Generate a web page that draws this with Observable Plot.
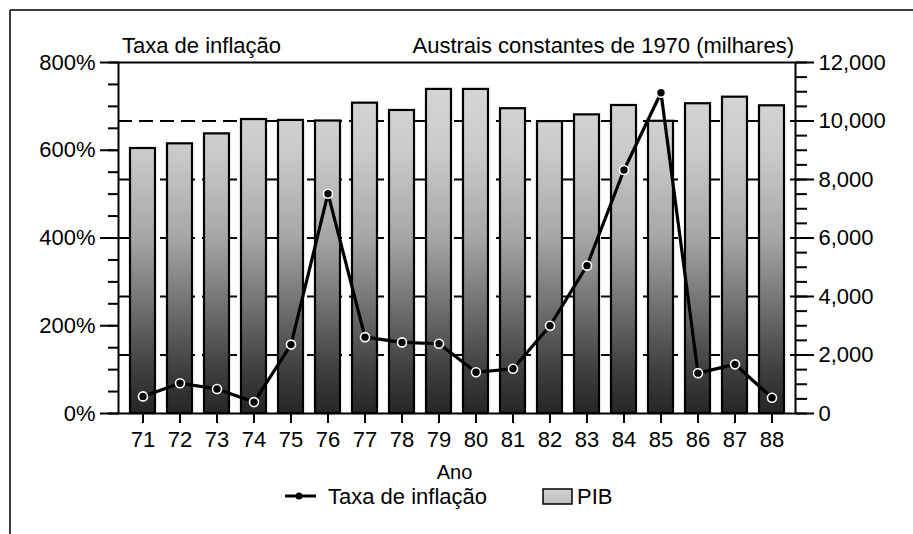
<!DOCTYPE html>
<html>
<head>
<meta charset="utf-8">
<script src="https://cdn.jsdelivr.net/npm/d3@7"></script>
<script src="https://cdn.jsdelivr.net/npm/@observablehq/plot@0.6"></script>
<style>
  html, body { margin: 0; padding: 0; background: #fff; }
  svg { display: block; }
</style>
</head>
<body>
<div id="chart"></div>
<script>
const years = ["71","72","73","74","75","76","77","78","79","80","81","82","83","84","85","86","87","88"];
const inflation = [39, 69, 56, 26, 157, 501, 174, 162, 159, 94, 102, 200, 337, 555, 731, 92, 112, 36];
const pib = [9060, 9220, 9560, 10050, 10020, 10000, 10610, 10360, 11080, 11080, 10420, 9980, 10210, 10530, 9990, 10590, 10815, 10520];

const leftTicks = [0, 200, 400, 600, 800];
const leftMinor = [0, 50, 100, 150, 200, 250, 300, 350, 400, 450, 500, 550, 600, 650, 700, 750, 800];
const rightTicks = [0, 2000, 4000, 6000, 8000, 10000, 12000];
const rightMinor = [0, 500, 1000, 1500, 2000, 2500, 3000, 3500, 4000, 4500, 5000, 5500, 6000, 6500, 7000, 7500, 8000, 8500, 9000, 9500, 10000, 10500, 11000, 11500, 12000];
const gridValues = [2000, 4000, 6000, 8000, 10000];

const labels = {
  leftTitle: "Taxa de inflação",
  rightTitle: "Austrais constantes de 1970 (milhares)",
  xTitle: "Ano",
  legendLine: "Taxa de inflação",
  legendBar: "PIB"
};

const ratio = 12000 / 800;
const data = years.map((y, i) => ({year: y, infl: inflation[i], pib: pib[i] / ratio}));

const W = 913, H = 534;
const mL = 118, mR = 118, mT = 62, mB = 121;
const font = "'Liberation Sans', Arial, Helvetica, sans-serif";

const defs = () => {
  const d = d3.create("svg:defs");
  const g = d.append("linearGradient").attr("id", "pibGrad")
    .attr("gradientUnits", "userSpaceOnUse")
    .attr("x1", 0).attr("x2", 0).attr("y1", mT).attr("y2", H - mB);
  [[0, "#dadada"], [0.25, "#cbcbcb"], [0.5, "#a6a6a6"], [0.72, "#6a6a6a"], [0.88, "#3e3e3e"], [1, "#262626"]]
    .forEach(([o, c]) => g.append("stop").attr("offset", o).attr("stop-color", c));
  const g2 = d.append("linearGradient").attr("id", "legGrad")
    .attr("x1", 0).attr("x2", 0).attr("y1", 0).attr("y2", 1);
  [[0, "#d4d4d4"], [1, "#bdbdbd"]].forEach(([o, c]) => g2.append("stop").attr("offset", o).attr("stop-color", c));
  return d.node();
};

const chart = Plot.plot({
  width: W, height: H,
  marginLeft: mL, marginRight: mR, marginTop: mT, marginBottom: mB,
  style: {fontFamily: font, fontSize: "22px", color: "black", background: "white"},
  x: {type: "band", domain: years, paddingInner: 0.33, paddingOuter: 0.165, label: null},
  y: {domain: [0, 800], label: null},
  marks: [
    defs,
    Plot.ruleY(gridValues.map(v => v / ratio), {stroke: "black", strokeWidth: 2, strokeDasharray: "14,7"}),
    Plot.barY(data, {x: "year", y: "pib", fill: "url(#pibGrad)", stroke: "black", strokeWidth: 2.2}),
    Plot.frame({stroke: "black", strokeWidth: 2}),
    Plot.axisY({anchor: "left", ticks: leftMinor, tickSize: 10, tickFormat: () => "", strokeWidth: 2, label: null}),
    Plot.axisY({anchor: "left", ticks: leftTicks, tickSize: 18, tickPadding: 5, tickFormat: d => d + "%", strokeWidth: 2, fontSize: 22, label: null}),
    Plot.axisY({anchor: "right", ticks: rightMinor.map(v => v / ratio), tickSize: 11, tickFormat: () => "", strokeWidth: 2, label: null}),
    Plot.axisY({anchor: "right", ticks: rightTicks.map(v => v / ratio), tickSize: 18, tickPadding: 5, tickFormat: d => d3.format(",")(Math.round(d * ratio)), strokeWidth: 2, fontSize: 22, label: null}),
    Plot.axisX({tickSize: 10, tickPadding: 8, strokeWidth: 2, fontSize: 22, label: null}),
    Plot.line(data, {x: "year", y: "infl", stroke: "black", strokeWidth: 3.2}),
    Plot.dot(data, {x: "year", y: "infl", r: 4.5, fill: "black", stroke: "white", strokeWidth: 1.6})
  ]
});

const svg = d3.select(chart);
// outer border (top and left)
svg.append("line").attr("x1", 10).attr("x2", W).attr("y1", 10).attr("y2", 10).attr("stroke", "black").attr("stroke-width", 1.5);
svg.append("line").attr("x1", 10).attr("x2", 10).attr("y1", 10).attr("y2", H).attr("stroke", "black").attr("stroke-width", 1.5);

const txt = (x, y, s, anchor, size) => svg.append("text").attr("x", x).attr("y", y).attr("text-anchor", anchor || "start")
  .attr("font-family", font).attr("font-size", size || 22).attr("fill", "black").text(s);

txt(122, 53, labels.leftTitle);
txt(794, 53, labels.rightTitle, "end");
txt((mL + (W - mR)) / 2 - 2, 479, labels.xTitle, "middle", 20);

// legend
svg.append("line").attr("x1", 285).attr("x2", 316).attr("y1", 496).attr("y2", 496).attr("stroke", "black").attr("stroke-width", 3);
svg.append("circle").attr("cx", 299).attr("cy", 496).attr("r", 3.5).attr("fill", "black");
txt(328, 504, labels.legendLine);
svg.append("rect").attr("x", 543).attr("y", 489).attr("width", 29).attr("height", 15)
  .attr("fill", "url(#legGrad)").attr("stroke", "black").attr("stroke-width", 1.5);
txt(577, 504, labels.legendBar);

document.getElementById("chart").appendChild(chart);
</script>
</body>
</html>
